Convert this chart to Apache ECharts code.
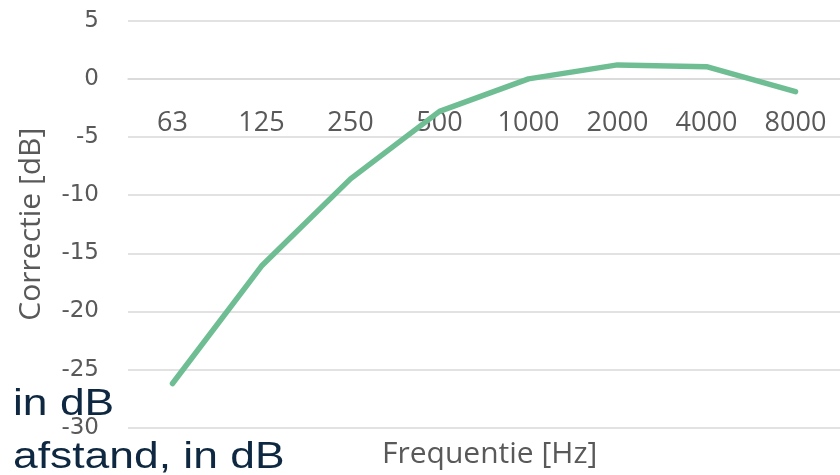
<!DOCTYPE html>
<html>
<head>
<meta charset="utf-8">
<script src="https://cdn.jsdelivr.net/npm/echarts@6/dist/echarts.min.js"></script>
<style>html,body{margin:0;padding:0;background:#fff}#c{width:840px;height:475px}</style>
</head>
<body>
<div id="c"></div>
<script>
const categories = ['63', '125', '250', '500', '1000', '2000', '4000', '8000'];
const correction = [-26.2, -16.1, -8.6, -2.8, 0, 1.2, 1.05, -1.1];
const yTicks = { min: -30, max: 5, interval: 5 };
const yName = 'Correctie [dB]';
const xName = 'Frequentie [Hz]';
const overlay1 = 'in dB';
const overlay2 = 'afstand, in dB';

const gridTop = 20.7, gridBottom = 47.3, H = 475;
const plotH = H - gridTop - gridBottom;
// distance from bottom of plot to value 0 (axis crossing)
const zeroOffset = plotH * (0 - yTicks.min) / (yTicks.max - yTicks.min);

const chart = echarts.init(document.getElementById('c'), null, { renderer: 'canvas' });
chart.setOption({
  animation: false,
  backgroundColor: '#ffffff',
  grid: { left: 128, right: -8, top: gridTop, bottom: gridBottom, containLabel: false },
  xAxis: {
    type: 'category',
    data: categories,
    boundaryGap: true,
    position: 'bottom',
    offset: -zeroOffset,
    axisLine: { show: true, onZero: false, lineStyle: { color: '#d9d9d9', width: 1.5 } },
    axisTick: { show: false },
    axisLabel: { color: '#595959', fontFamily: 'Open Sans', fontSize: 27, margin: 31 },
    splitLine: { show: false }
  },
  yAxis: {
    type: 'value',
    min: yTicks.min, max: yTicks.max, interval: yTicks.interval,
    name: yName,
    nameLocation: 'middle',
    nameGap: 82,
    nameTextStyle: { color: '#595959', fontFamily: 'Open Sans', fontSize: 30 },
    axisLine: { show: false },
    axisTick: { show: false },
    axisLabel: { color: '#595959', fontFamily: 'DejaVu Sans', fontSize: 23, margin: 29, padding: [7, 0, 0, 0] },
    splitLine: { show: true, lineStyle: { color: '#d9d9d9', width: 1.5 } }
  },
  series: [{
    type: 'line',
    data: correction,
    symbol: 'none',
    lineStyle: { color: '#6fbe93', width: 5.5, cap: 'round', join: 'round' },
    itemStyle: { color: '#6fbe93' }
  }],
  graphic: [
    { type: 'text', left: 382, top: 439, style: { text: xName, fill: '#595959', font: '30px "Open Sans"' } },
    { type: 'text', x: 13, y: 423, scaleX: 1.2, style: { text: overlay1, fill: '#0e2841', font: '37px "Liberation Sans"', verticalAlign: 'bottom' } },
    { type: 'text', x: 13, y: 476, scaleX: 1.2, style: { text: overlay2, fill: '#0e2841', font: '37px "Liberation Sans"', verticalAlign: 'bottom' } }
  ]
});
</script>
</body>
</html>
